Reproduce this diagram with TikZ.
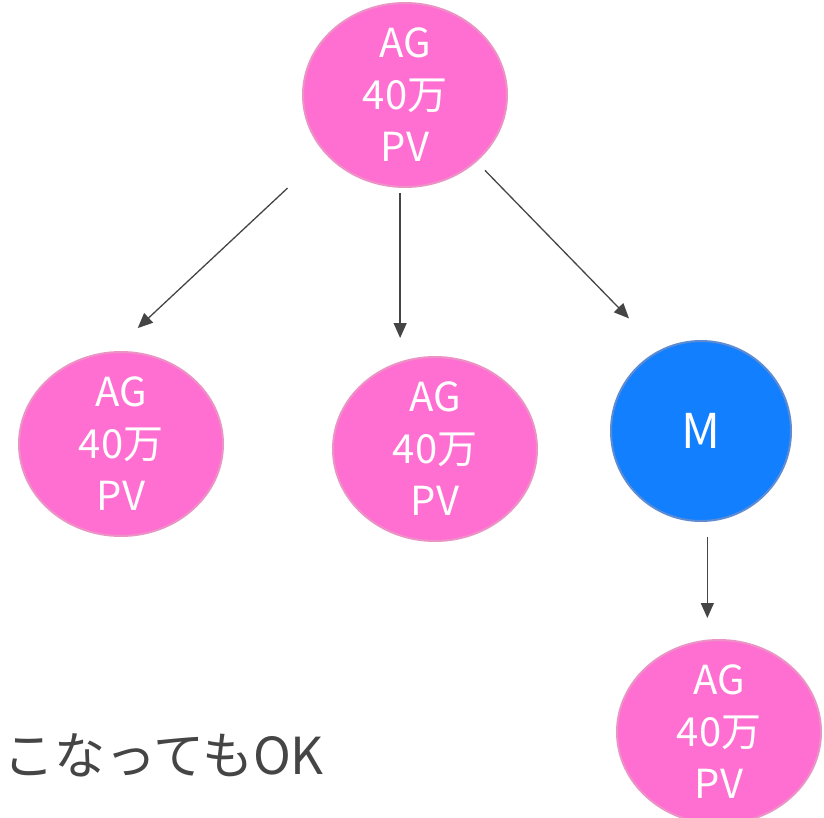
\documentclass[tikz,border=0pt]{standalone}
\usepackage{fontspec}
\setmainfont{Noto Sans CJK JP}
\usepackage{xcolor}
\usepackage{tikz}
\usetikzlibrary{shapes.geometric, arrows.meta, positioning, calc}
\definecolor{agpink}{HTML}{FF6FD2}
\definecolor{agborder}{HTML}{EC93C6}
\definecolor{mblue}{HTML}{127FFF}
\definecolor{mborder}{HTML}{5E8CD2}
\definecolor{linegray}{HTML}{454545}
\tikzstyle{arrow} = [line width=1.3pt, draw=linegray, -{Triangle[length=15pt,width=13pt]}]
\tikzstyle{agnode} = [ellipse, minimum width=204pt, minimum height=184pt, inner xsep=0pt, inner ysep=-20pt, draw=agborder, line width=2pt, fill=agpink, text=white, align=center, font=\fontsize{40}{52}\selectfont]
\tikzstyle{mnode} = [circle, minimum size=180pt, inner sep=0pt, draw=mborder, line width=2pt, fill=mblue, text=white, font=\fontsize{48}{56}\selectfont]

\begin{document}
\begin{tikzpicture}[x=1pt, y=-1pt]
    \useasboundingbox (0,0) rectangle (824,818);
    % Top node
    \node[agnode] (top) at (405,95) {AG\\40万\\PV};

    % Second row
    \node[agnode, below=168pt of top, xshift=30pt] (mid) {AG\\40万\\PV};
    \node[agnode, left=108pt of mid, yshift=5pt] (left) {AG\\40万\\PV};
    \node[mnode, right=72pt of mid, yshift=18pt] (m) {M};

    % Below M
    \node[agnode, below=117pt of m, xshift=18pt] (bot) {AG\\40万\\PV};

    % Caption
    \node[anchor=west, inner sep=0pt, text=linegray, font=\fontsize{51}{58}\selectfont] (note) at (3,755) {こなってもOK};

    % Arrows
    \draw[arrow, shorten <=51pt, shorten >=34pt] (top.216) -- (left.95);
    \draw[arrow, shorten <=5pt, shorten >=18pt] (top.267) -- (top.267 |- mid.north);
    \draw[arrow, shorten <=12pt, shorten >=44pt] (top.317) -- (m.117);
    \draw[arrow, shorten <=15pt, shorten >=21pt] (m.274) -- (m.274 |- bot.north);
\end{tikzpicture}
\end{document}
